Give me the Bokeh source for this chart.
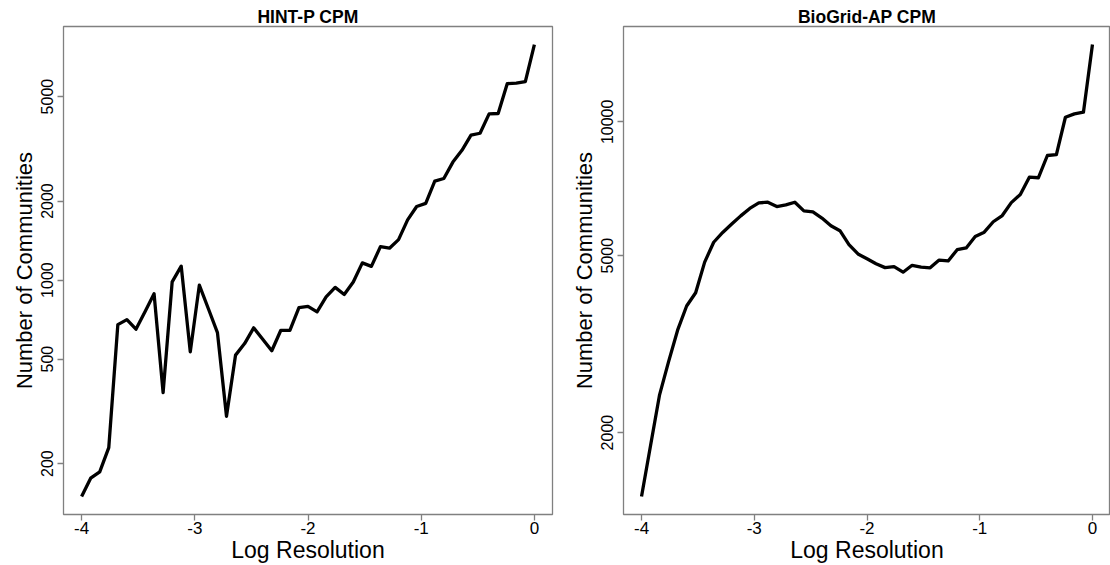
import math
from bokeh.plotting import figure
from bokeh.layouts import row
from bokeh.models import Range1d, FixedTicker, PrintfTickFormatter
from bokeh.embed import file_html
from bokeh.resources import INLINE

# ---- data ----
log_resolution = [round(-4 + 0.08 * i, 2) for i in range(51)]

hint_p_titles = "HINT-P CPM"
hint_p_counts = [150, 176, 186, 230, 677, 707, 650, 757, 888, 373,
                 984, 1130, 533, 957, 778, 631, 303, 518, 573, 658,
                 595, 538, 644, 644, 785, 794, 757, 863, 938, 881,
                 984, 1163, 1128, 1341, 1323, 1426, 1695, 1907, 1960, 2384,
                 2437, 2815, 3120, 3565, 3625, 4295, 4310, 5600, 5630, 5700,
                 7890]

biogrid_title = "BioGrid-AP CPM"
biogrid_counts = [1437, 1871, 2432, 2888, 3399, 3853, 4127, 4835, 5360, 5638,
                  5890, 6145, 6385, 6570, 6595, 6450, 6503, 6595, 6305, 6272,
                  6075, 5838, 5690, 5295, 5045, 4920, 4795, 4700, 4725, 4590,
                  4757, 4710, 4695, 4888, 4866, 5157, 5205, 5524, 5648, 5960,
                  6155, 6580, 6866, 7509, 7485, 8400, 8437, 10240, 10420, 10510,
                  14920]

x_ticks = [-4, -3, -2, -1, 0]
hint_y_ticks = [200, 500, 1000, 2000, 5000]
bio_y_ticks = [2000, 5000, 10000]

FONT = "Liberation Sans"
BOX = "#808080"


def r_range_log(vals):
    lo, hi = math.log10(min(vals)), math.log10(max(vals))
    pad = 0.04 * (hi - lo)
    return Range1d(10 ** (lo - pad), 10 ** (hi + pad))


def make_panel(title, counts, yticks, width, border_left, border_right):
    xs = log_resolution
    pad = 0.04 * (max(xs) - min(xs))
    p = figure(width=width, height=565, y_axis_type="log",
               x_range=Range1d(min(xs) - pad, max(xs) + pad),
               y_range=r_range_log(counts),
               output_backend="svg", toolbar_location=None,
               min_border_left=border_left, min_border_right=border_right,
               min_border_top=26, min_border_bottom=48,
               background_fill_color="white", border_fill_color="white")
    p.line(xs, counts, line_color="black", line_width=3.3, line_join="round")

    p.title.text = title
    p.title.align = "center"
    p.title.text_font = FONT
    p.title.text_font_size = "17.5px"
    p.title.text_font_style = "bold"
    p.title.text_color = "black"
    p.title.standoff = 0
    p.title.offset = 0

    p.outline_line_color = BOX
    p.outline_line_width = 1.3
    p.xgrid.visible = False
    p.ygrid.visible = False

    for ax in (p.xaxis[0], p.yaxis[0]):
        ax.axis_line_color = None
        ax.major_tick_line_color = BOX
        ax.major_tick_line_width = 1.3
        ax.major_tick_out = 6
        ax.major_tick_in = 0
        ax.minor_tick_line_color = None
        ax.major_label_text_font = FONT
        ax.major_label_text_font_size = "16px"
        ax.major_label_text_color = "black"
        ax.axis_label_text_font = FONT
        ax.axis_label_text_font_size = "22px"
        ax.axis_label_text_font_style = "normal"
        ax.axis_label_text_color = "black"

    p.xaxis.ticker = FixedTicker(ticks=x_ticks)
    p.xaxis.formatter = PrintfTickFormatter(format="%d")
    p.xaxis.axis_label = "Log Resolution"
    p.xaxis.major_label_text_font_size = "17px"
    p.xaxis.axis_label_text_font_size = "23px"
    p.xaxis.major_label_standoff = 1
    p.xaxis.axis_label_standoff = 0

    p.yaxis.ticker = FixedTicker(ticks=yticks)
    p.yaxis.formatter = PrintfTickFormatter(format="%d")
    p.yaxis.major_label_orientation = "vertical"
    p.yaxis.axis_label = "Number of Communities"
    p.yaxis.major_label_standoff = 4
    p.yaxis.axis_label_standoff = 2
    return p


p1 = make_panel(hint_p_titles, hint_p_counts, hint_y_ticks, 558, 63, 6)
p2 = make_panel(biogrid_title, biogrid_counts, bio_y_ticks, 552, 65, 0)

layout = row(p1, p2)
open("out.html", "w").write(file_html(layout, INLINE))
